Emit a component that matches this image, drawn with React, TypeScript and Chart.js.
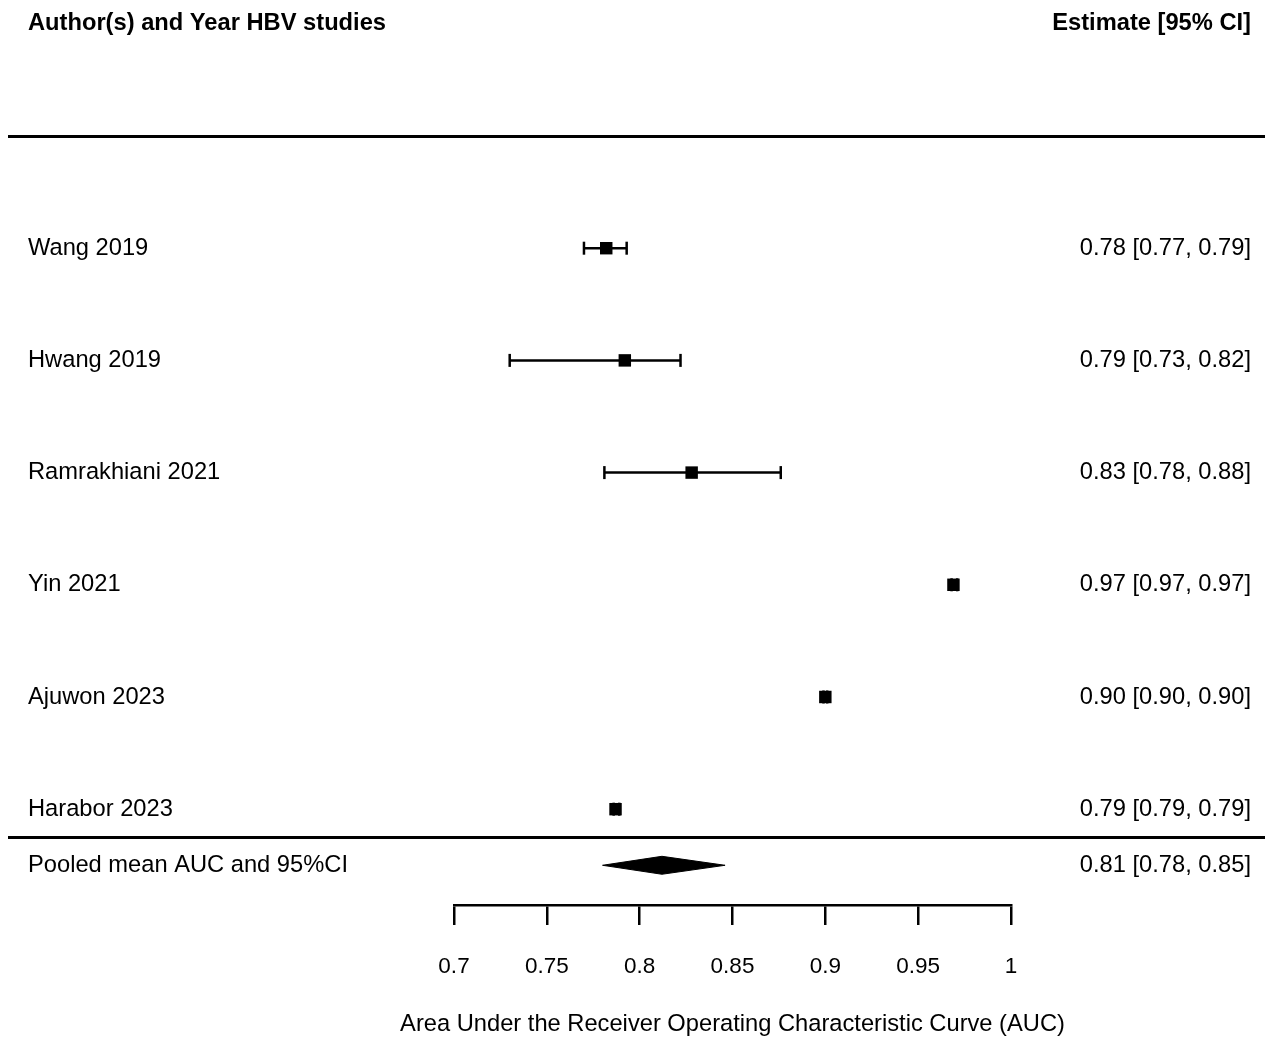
import { useEffect, useRef } from "react";
import { Chart, registerables } from "chart.js";

Chart.register(...registerables);

// ---- data ----
const studies = ["Wang 2019", "Hwang 2019", "Ramrakhiani 2021", "Yin 2021", "Ajuwon 2023", "Harabor 2023"];
const estimates = [0.782, 0.792, 0.828, 0.969, 0.9, 0.787];
const lowerCI = [0.77, 0.73, 0.781, 0.968, 0.899, 0.786];
const upperCI = [0.793, 0.822, 0.876, 0.971, 0.901, 0.789];
const pooledLabel = "Pooled mean AUC and 95%CI";
const pooledEstimate = [0.812];
const pooledLower = [0.78];
const pooledUpper = [0.846];
const xTicks = [0.7, 0.75, 0.8, 0.85, 0.9, 0.95, 1];
const leftHeader = "Author(s) and Year HBV studies";
const rightHeader = "Estimate [95% CI]";
const xTitle = "Area Under the Receiver Operating Characteristic Curve (AUC)";

const FONT = '"Liberation Sans", Arial, Helvetica, sans-serif';
const FS = 23.7;
const POOLED_Y = 6.5;
const SEP_Y = 6.25;
const DIAMOND_H = 0.08;

const fmt = (v: number) => v.toFixed(2);

const forestText = {
  id: "forestText",
  afterDraw(chart: any) {
    const { ctx, chartArea } = chart;
    const ys = chart.scales.y;
    const W = chart.width;
    ctx.save();
    ctx.fillStyle = "#000";
    ctx.strokeStyle = "#000";
    ctx.textBaseline = "middle";
    // headers
    ctx.font = `bold ${FS}px ${FONT}`;
    ctx.textAlign = "left";
    ctx.fillText(leftHeader, 28, ys.getPixelForValue(-1));
    ctx.textAlign = "right";
    ctx.fillText(rightHeader, 1251, ys.getPixelForValue(-1));
    // rows
    ctx.font = `${FS}px ${FONT}`;
    studies.forEach((s, i) => {
      const py = ys.getPixelForValue(i + 1);
      ctx.textAlign = "left";
      ctx.fillText(s, 28, py);
      ctx.textAlign = "right";
      ctx.fillText(`${fmt(estimates[i])} [${fmt(lowerCI[i])}, ${fmt(upperCI[i])}]`, 1251, py);
    });
    const pp = ys.getPixelForValue(POOLED_Y);
    ctx.textAlign = "left";
    ctx.fillText(pooledLabel, 28, pp);
    ctx.textAlign = "right";
    ctx.fillText(`${fmt(pooledEstimate[0])} [${fmt(pooledLower[0])}, ${fmt(pooledUpper[0])}]`, 1251, pp);
    // x-axis title, centred under the axis
    ctx.textAlign = "center";
    ctx.fillText(xTitle, (chartArea.left + chartArea.right) / 2, chart.height - 13);
    // separator lines
    ctx.lineWidth = 3;
    [0, SEP_Y].forEach((v) => {
      const py = Math.round(ys.getPixelForValue(v)) + 0.5;
      ctx.beginPath();
      ctx.moveTo(8, py);
      ctx.lineTo(W, py);
      ctx.stroke();
    });
    ctx.restore();
  },
};

export default function App() {
  const ref = useRef<HTMLCanvasElement | null>(null);
  useEffect(() => {
    document.body.style.margin = "0";
    const canvas = ref.current;
    if (!canvas) return;

    const ciSets = studies.map((s, i) => ({
      label: s + " CI",
      data: [
        { x: lowerCI[i], y: i + 1 },
        { x: upperCI[i], y: i + 1 },
      ],
      showLine: true,
      borderColor: "#000",
      borderWidth: 2.5,
      pointStyle: "line",
      pointRadius: 6.5,
      pointRotation: 90,
      pointBorderWidth: 2.5,
      pointBorderColor: "#000",
      fill: false,
    }));

    const chart = new Chart(canvas, {
      type: "line",
      data: {
        datasets: [
          {
            label: "Estimates",
            data: estimates.map((e, i) => ({ x: e, y: i + 1 })),
            showLine: false,
            pointStyle: "rect",
            pointRadius: 8.8,
            pointBackgroundColor: "#000",
            pointBorderWidth: 0,
            backgroundColor: "#000",
            borderColor: "#000",
          },
          ...ciSets,
          {
            label: "Pooled upper",
            data: [
              { x: pooledLower[0], y: POOLED_Y },
              { x: pooledEstimate[0], y: POOLED_Y - DIAMOND_H },
              { x: pooledUpper[0], y: POOLED_Y },
            ],
            showLine: true,
            borderColor: "#000",
            borderWidth: 1,
            backgroundColor: "#000",
            pointRadius: 0,
            tension: 0,
            fill: "+1",
          },
          {
            label: "Pooled lower",
            data: [
              { x: pooledLower[0], y: POOLED_Y },
              { x: pooledEstimate[0], y: POOLED_Y + DIAMOND_H },
              { x: pooledUpper[0], y: POOLED_Y },
            ],
            showLine: true,
            borderColor: "#000",
            borderWidth: 1,
            backgroundColor: "#000",
            pointRadius: 0,
            tension: 0,
            fill: false,
          },
        ] as any,
      },
      options: {
        responsive: false,
        animation: false,
        devicePixelRatio: 1,
        layout: { padding: { left: 454, right: 254, top: 136, bottom: 0 } },
        plugins: {
          legend: { display: false },
          tooltip: { enabled: false },
        },
        scales: {
          x: {
            type: "linear",
            min: 0.7,
            max: 1.0,
            afterBuildTicks: (scale: any) => {
              scale.ticks = xTicks.map((v) => ({ value: v }));
            },
            afterFit: (scale: any) => {
              scale.height = 132;
            },
            ticks: {
              color: "#000",
              font: { family: FONT, size: 22.5 },
              padding: 28,
              maxRotation: 0,
              autoSkip: false,
              callback: (v: any) => String(Number(Number(v).toFixed(2))),
            },
            grid: {
              display: true,
              drawOnChartArea: false,
              drawTicks: true,
              tickLength: 20,
              color: "#000",
              lineWidth: 2.5,
            },
            border: { display: true, color: "#000", width: 2.5 },
            title: { display: false },
          },
          y: {
            type: "linear",
            display: false,
            reverse: true,
            min: 0,
            max: 6.854,
          },
        },
      } as any,
      plugins: [forestText],
    });
    return () => chart.destroy();
  }, []);

  return (
    <div style={{ width: 1265, height: 1037, background: "#fff" }}>
      <canvas ref={ref} width={1265} height={1037} style={{ display: "block" }} />
    </div>
  );
}
